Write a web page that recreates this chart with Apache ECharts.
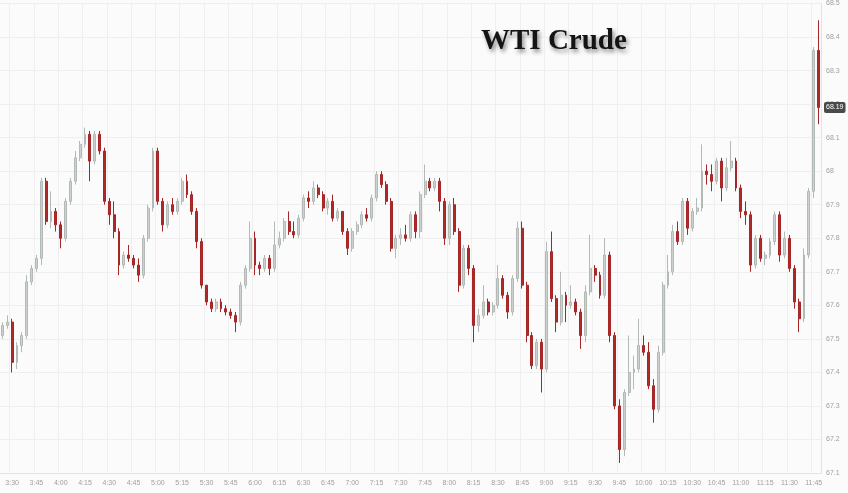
<!DOCTYPE html>
<html>
<head>
<meta charset="utf-8">
<script src="https://cdn.jsdelivr.net/npm/echarts@6/dist/echarts.min.js"></script>
<style>
html,body{margin:0;padding:0;background:#fbfbfb;}
#chart{width:848px;height:493px;}
</style>
</head>
<body>
<div id="chart"></div>
<script>
// 3-minute bars, 3:24 .. 11:48
const times = [
"3:24","3:27","3:30","3:33","3:36","3:39","3:42","3:45","3:48","3:51","3:54","3:57",
"4:00","4:03","4:06","4:09","4:12","4:15","4:18","4:21","4:24","4:27","4:30","4:33","4:36","4:39","4:42","4:45","4:48","4:51","4:54","4:57",
"5:00","5:03","5:06","5:09","5:12","5:15","5:18","5:21","5:24","5:27","5:30","5:33","5:36","5:39","5:42","5:45","5:48","5:51","5:54","5:57",
"6:00","6:03","6:06","6:09","6:12","6:15","6:18","6:21","6:24","6:27","6:30","6:33","6:36","6:39","6:42","6:45","6:48","6:51","6:54","6:57",
"7:00","7:03","7:06","7:09","7:12","7:15","7:18","7:21","7:24","7:27","7:30","7:33","7:36","7:39","7:42","7:45","7:48","7:51","7:54","7:57",
"8:00","8:03","8:06","8:09","8:12","8:15","8:18","8:21","8:24","8:27","8:30","8:33","8:36","8:39","8:42","8:45","8:48","8:51","8:54","8:57",
"9:00","9:03","9:06","9:09","9:12","9:15","9:18","9:21","9:24","9:27","9:30","9:33","9:36","9:39","9:42","9:45","9:48","9:51","9:54","9:57",
"10:00","10:03","10:06","10:09","10:12","10:15","10:18","10:21","10:24","10:27","10:30","10:33","10:36","10:39","10:42","10:45","10:48","10:51","10:54","10:57",
"11:00","11:03","11:06","11:09","11:12","11:15","11:18","11:21","11:24","11:27","11:30","11:33","11:36","11:39","11:42","11:45","11:48"
];

const opens = [
67.51,67.54,67.55,67.43,67.48,67.51,67.67,67.71,67.74,67.97,67.85,67.88,67.84,67.80,67.91,67.97,68.04,68.08,68.11,68.03,
68.11,68.06,67.91,67.87,67.82,67.72,67.75,67.74,67.72,67.69,67.80,67.89,68.06,67.91,67.84,67.90,67.88,67.91,67.97,67.93,
67.88,67.79,67.66,67.61,67.59,67.61,67.59,67.58,67.57,67.55,67.66,67.71,67.80,67.72,67.71,67.74,67.71,67.78,67.80,67.85,
67.82,67.81,67.86,67.92,67.91,67.95,67.93,67.89,67.91,67.86,67.88,67.82,67.77,67.82,67.84,67.87,67.86,67.92,67.99,67.96,
67.91,67.77,67.80,67.81,67.80,67.87,67.82,67.93,67.97,67.95,67.97,67.91,67.80,67.90,67.82,67.66,67.77,67.71,67.54,67.57,
67.61,67.58,67.60,67.68,67.63,67.58,67.68,67.83,67.66,67.51,67.42,67.49,67.41,67.76,67.62,67.55,67.63,67.60,67.61,67.58,
67.51,67.64,67.71,67.69,67.63,67.75,67.51,67.30,67.17,67.34,67.40,67.41,67.48,67.46,67.36,67.29,67.46,67.66,67.70,67.82,
67.79,67.91,67.83,67.88,67.89,68.00,67.99,67.97,68.03,67.95,68.01,68.03,67.95,67.88,67.87,67.72,67.80,67.74,67.75,67.79,
67.87,67.75,67.80,67.71,67.61,67.56,67.75,67.94,68.36
];
const closes = [
67.54,67.55,67.43,67.48,67.51,67.67,67.71,67.74,67.97,67.85,67.88,67.84,67.80,67.91,67.97,68.04,68.08,68.11,68.03,68.11,
68.06,67.91,67.87,67.82,67.72,67.75,67.74,67.72,67.69,67.80,67.89,68.06,67.91,67.84,67.90,67.88,67.91,67.97,67.93,67.88,
67.79,67.66,67.61,67.59,67.61,67.59,67.58,67.57,67.55,67.66,67.71,67.80,67.72,67.71,67.74,67.71,67.78,67.80,67.85,67.82,
67.81,67.86,67.92,67.91,67.95,67.93,67.89,67.91,67.86,67.88,67.82,67.77,67.82,67.84,67.87,67.86,67.92,67.99,67.96,67.91,
67.77,67.80,67.81,67.80,67.87,67.82,67.93,67.97,67.95,67.97,67.91,67.80,67.90,67.82,67.66,67.77,67.71,67.54,67.57,67.61,
67.58,67.60,67.68,67.63,67.58,67.68,67.83,67.66,67.51,67.42,67.49,67.41,67.76,67.62,67.55,67.63,67.60,67.61,67.58,67.51,
67.64,67.71,67.69,67.63,67.75,67.51,67.30,67.17,67.34,67.40,67.41,67.48,67.46,67.36,67.29,67.46,67.66,67.70,67.82,67.79,
67.91,67.83,67.88,67.89,68.00,67.99,67.97,68.03,67.95,68.01,68.03,67.95,67.88,67.87,67.72,67.80,67.74,67.75,67.79,67.87,
67.75,67.80,67.71,67.61,67.56,67.75,67.94,68.36,68.19
];
const lows = [
67.50,67.53,67.40,67.41,67.46,67.50,67.66,67.70,67.72,67.84,67.83,67.82,67.77,67.79,67.90,67.96,68.03,68.07,67.97,68.02,
68.05,67.90,67.84,67.80,67.69,67.71,67.73,67.71,67.67,67.68,67.79,67.88,67.90,67.82,67.83,67.87,67.87,67.90,67.92,67.87,
67.77,67.65,67.60,67.58,67.58,67.58,67.57,67.56,67.52,67.54,67.65,67.70,67.69,67.69,67.70,67.69,67.70,67.77,67.79,67.81,
67.80,67.80,67.85,67.89,67.90,67.92,67.88,67.87,67.85,67.85,67.81,67.75,67.76,67.81,67.83,67.85,67.85,67.91,67.95,67.90,
67.76,67.74,67.78,67.79,67.79,67.80,67.80,67.92,67.94,67.94,67.88,67.78,67.78,67.81,67.64,67.65,67.69,67.49,67.52,67.56,
67.57,67.57,67.59,67.62,67.56,67.57,67.67,67.65,67.49,67.41,67.41,67.34,67.40,67.61,67.52,67.54,67.55,67.59,67.57,67.47,
67.49,67.63,67.67,67.62,67.62,67.49,67.29,67.13,67.15,67.33,67.35,67.40,67.45,67.35,67.25,67.28,67.45,67.65,67.69,67.78,
67.78,67.81,67.82,67.87,67.88,67.96,67.94,67.96,67.91,67.94,68.00,67.94,67.86,67.84,67.70,67.71,67.73,67.72,67.74,67.78,
67.73,67.74,67.70,67.59,67.52,67.55,67.74,67.92,68.14
];
const highs = [
67.55,67.57,67.56,67.49,67.52,67.69,67.72,67.75,67.98,67.98,67.94,67.89,67.85,67.92,67.98,68.06,68.09,68.13,68.12,68.12,
68.12,68.07,67.92,67.91,67.83,67.76,67.78,67.75,67.74,67.81,67.90,68.07,68.07,67.92,67.91,67.92,67.92,67.98,67.99,67.94,
67.89,67.80,67.66,67.62,67.62,67.62,67.60,67.59,67.58,67.67,67.72,67.85,67.82,67.73,67.75,67.75,67.85,67.82,67.86,67.88,
67.85,67.87,67.93,67.94,67.97,67.96,67.94,67.92,67.93,67.89,67.88,67.83,67.83,67.85,67.88,67.89,67.93,68.00,68.00,67.97,
67.92,67.81,67.83,67.84,67.88,67.88,67.94,68.02,67.98,67.98,67.98,67.92,67.91,67.92,67.83,67.78,67.78,67.72,67.59,67.66,
67.62,67.61,67.72,67.69,67.64,67.69,67.85,67.85,67.67,67.52,67.50,67.50,67.79,67.82,67.63,67.70,67.64,67.66,67.62,67.59,
67.66,67.81,67.72,67.70,67.80,67.76,67.52,67.32,67.35,67.51,67.45,67.56,67.51,67.49,67.38,67.48,67.67,67.75,67.84,67.85,
67.92,67.92,67.89,67.92,68.08,68.02,68.02,68.04,68.04,68.04,68.09,68.04,67.96,67.91,67.88,67.81,67.81,67.76,67.80,67.88,
67.88,67.82,67.81,67.72,67.62,67.77,67.95,68.37,68.45
];

const yMin = 67.1, yMax = 68.5, yStep = 0.1;
const titleText = "WTI Crude";

const ohlc = opens.map((o, i) => [o, closes[i], lows[i], highs[i]]);
const lastClose = closes[closes.length - 1];
const isQuarter = (idx, val) => /:(00|15|30|45)$/.test(times[idx]);

const chart = echarts.init(document.getElementById('chart'), null, {renderer: 'canvas'});
chart.setOption({
  backgroundColor: '#fbfbfb',
  animation: false,
  title: {
    text: titleText,
    left: 476, top: 22,
    textStyle: {
      fontFamily: '"Liberation Serif", "Times New Roman", serif',
      fontWeight: 'bold', fontSize: 29, color: '#141414',
      textShadowColor: 'rgba(0,0,0,0.45)', textShadowBlur: 4,
      textShadowOffsetX: 2, textShadowOffsetY: 3
    }
  },
  grid: {left: 0, right: 27, top: 0, bottom: 20},
  xAxis: {
    type: 'category',
    data: times,
    boundaryGap: true,
    axisLine: {show: true, lineStyle: {color: '#e4e4e4'}},
    axisTick: {show: false},
    axisLabel: {
      interval: isQuarter, fontSize: 7, color: '#a0a0a0', margin: 7,
      fontFamily: '"Liberation Sans", Arial, sans-serif'
    },
    splitLine: {show: true, interval: isQuarter, lineStyle: {color: '#efefef', width: 1}}
  },
  yAxis: {
    type: 'value',
    position: 'right',
    min: yMin, max: yMax, interval: yStep,
    axisLine: {show: true, lineStyle: {color: '#e4e4e4'}},
    axisTick: {show: false},
    axisLabel: {
      fontSize: 7, color: '#a0a0a0', margin: 5,
      fontFamily: '"Liberation Sans", Arial, sans-serif'
    },
    splitLine: {show: true, lineStyle: {color: '#efefef', width: 1}}
  },
  series: [{
    type: 'candlestick',
    data: ohlc,
    barWidth: 2.4,
    itemStyle: {
      color: '#ccd2cf', borderColor: '#b3bab6',
      color0: '#b02a2a', borderColor0: '#a52626',
      borderWidth: 1
    },
    markLine: {
      silent: true,
      symbol: 'none',
      lineStyle: {color: 'rgba(0,0,0,0)', width: 0},
      label: {
        show: true, position: 'end', distance: 3,
        formatter: () => lastClose.toFixed(2),
        backgroundColor: '#4a4a4a', color: '#ffffff',
        fontSize: 7, padding: [2, 2], borderRadius: 2,
        fontFamily: '"Liberation Sans", Arial, sans-serif'
      },
      data: [{yAxis: lastClose}]
    }
  }]
});
</script>
</body>
</html>
